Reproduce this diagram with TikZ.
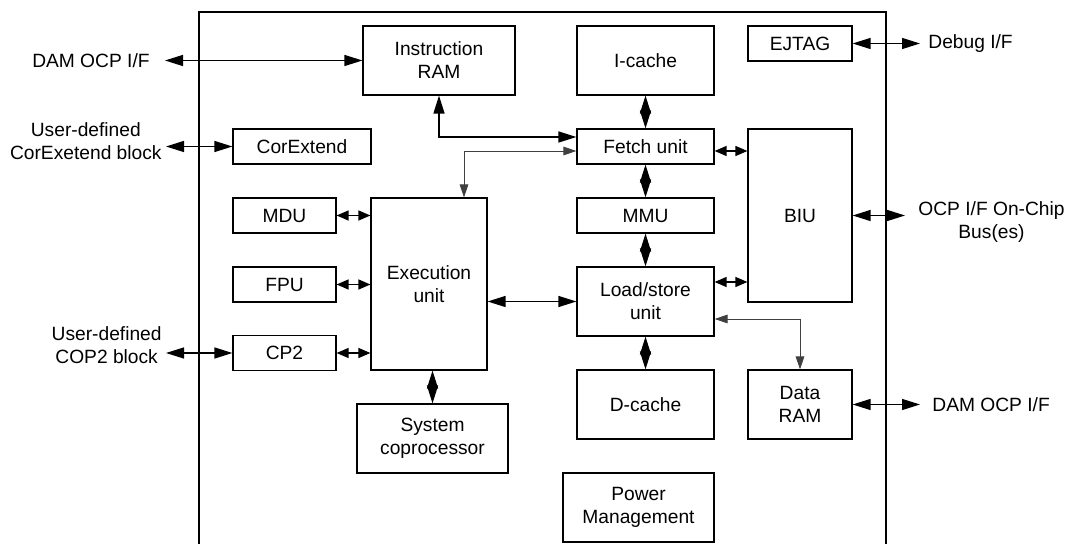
\documentclass[tikz,border=0pt]{standalone}
\usepackage{fontspec}
\setmainfont{Liberation Sans}
\usetikzlibrary{positioning,arrows.meta}

\begin{document}
\begin{tikzpicture}[x=0.5pt, y=-0.5pt, on grid,
        every node/.style={font=\fontsize{9.6}{11.5}\selectfont},
        blk/.style={draw, line width=0.6pt, inner sep=0pt, align=center},
        lbl/.style={align=center, inner sep=0pt},
        dbl/.style={{Triangle[length=9pt,width=5.5pt]}-{Triangle[length=9pt,width=5.5pt]}, line width=0.65pt},
        sdbl/.style={{Triangle[length=6pt,width=5pt]}-{Triangle[length=6pt,width=5pt]}, line width=0.65pt},
        tdbl/.style={{Triangle[length=6.5pt,width=4.3pt]}-{Triangle[length=6.5pt,width=4.3pt]}, line width=0.45pt, black!75}]
            \useasboundingbox (0,0) rectangle (1069,544);
            \draw[line width=0.75pt] (199,544) |- (886,12) -- (886,544);

            \node[blk, minimum width=76pt, minimum height=34.5pt] (iram) at (439,60.5) {Instruction\\RAM};
            \node[blk, minimum width=68.5pt, minimum height=34.5pt] (icache) at (645.5,60.5) {I-cache};
            \node[blk, minimum width=52pt, minimum height=17.5pt] (ejtag) at (800,43.5) {EJTAG};
            \node[blk, minimum width=69pt, minimum height=17.5pt] (corext) at (302,146.5) {CorExtend};
            \node[blk, minimum width=68.5pt, minimum height=17.5pt, below=43pt of icache] (fetch) {Fetch unit};
            \node[blk, minimum width=68.5pt, minimum height=17.5pt, below=34.5pt of fetch] (mmu) {MMU};
            \node[blk, minimum width=68.5pt, minimum height=34.5pt, below=43pt of mmu] (ls) {Load/store\\unit};
            \node[blk, minimum width=68.5pt, minimum height=34.5pt, below=51.5pt of ls] (dcache) {D-cache};
            \node[blk, minimum width=52pt, minimum height=86.5pt] (biu) at (800,215.5) {BIU};
            \node[blk, minimum width=52pt, minimum height=34.5pt] (dram) at (800,404.5) {Data\\RAM};
            \node[blk, minimum width=51.5pt, minimum height=17.5pt] (mdu) at (284.5,215.5) {MDU};
            \node[blk, minimum width=51.5pt, minimum height=17.5pt, below=34.5pt of mdu] (fpu) {FPU};
            \node[blk, minimum width=51.5pt, minimum height=17.5pt, below=34.25pt of fpu] (cp2) {CP2};
            \node[blk, minimum width=58pt, minimum height=86pt] (exec) at (429,284) {Execution\\unit};
            \node[blk, minimum width=75.5pt, minimum height=34.5pt] (syscop) at (432.5,438.5) {System\\coprocessor};
            \node[blk, minimum width=75.5pt, minimum height=34.5pt] (power) at (638.5,507.5) {Power\\Management};

            \node[lbl, anchor=east, inner xsep=7.5pt] (damin) at (165,60.5) {DAM OCP I/F};
            \node[lbl, anchor=east, inner xsep=2pt] (extin) at (166,141) {User-defined\\CorExetend block};
            \node[lbl, anchor=east, inner xsep=2pt] (copin) at (166,345) {User-defined\\COP2 block};
            \node[lbl, anchor=west, inner xsep=4pt] (dbgout) at (920,43.5) {Debug I/F};
            \node[lbl, anchor=west, inner xsep=6pt] (damout) at (920,404.5) {DAM OCP I/F};
            \node[lbl, anchor=west, inner xsep=2pt] (busout) at (914,222) {OCP I/F On-Chip\\Bus(es)};
            \coordinate (busend) at (905,215.5);

            \path[dbl] (damin) edge (iram);
            \draw[dbl] (extin.east |- corext) -- (corext);
            \draw[dbl] (copin.east |- cp2) -- (cp2);
            \path[dbl] (ejtag) edge (dbgout);
            \path[dbl] (dram) edge (damout);
            \draw[dbl] (biu) -- (busend);

            \path[dbl] (icache) edge (fetch) (fetch) edge (mmu) (mmu) edge (ls) (ls) edge (dcache);
            \draw[dbl] (ls.west) -- (ls.west -| exec.east);
            \draw[dbl] (syscop.north) -- (syscop.north |- exec.south);
            \draw[dbl] (iram) |- ([yshift=4.75pt]fetch.west);
            \draw[tdbl] ([yshift=-2.25pt]fetch.west) -| ([xshift=17.5pt]exec.north);

            \draw[sdbl] (mdu) -- (mdu -| exec.west);
            \draw[sdbl] (fpu) -- (fpu -| exec.west);
            \draw[sdbl] (cp2) -- (cp2 -| exec.west);
            \draw[sdbl] ([yshift=-2.25pt]fetch.east) -- ([yshift=-2.25pt]fetch.east -| biu.west);
            \draw[sdbl] ([yshift=9.75pt]ls.east) -- ([yshift=9.75pt]ls.east -| biu.west);
            \draw[tdbl] ([yshift=-8.75pt]ls.east) -| (dram.north);
        \end{tikzpicture}
\end{document}
